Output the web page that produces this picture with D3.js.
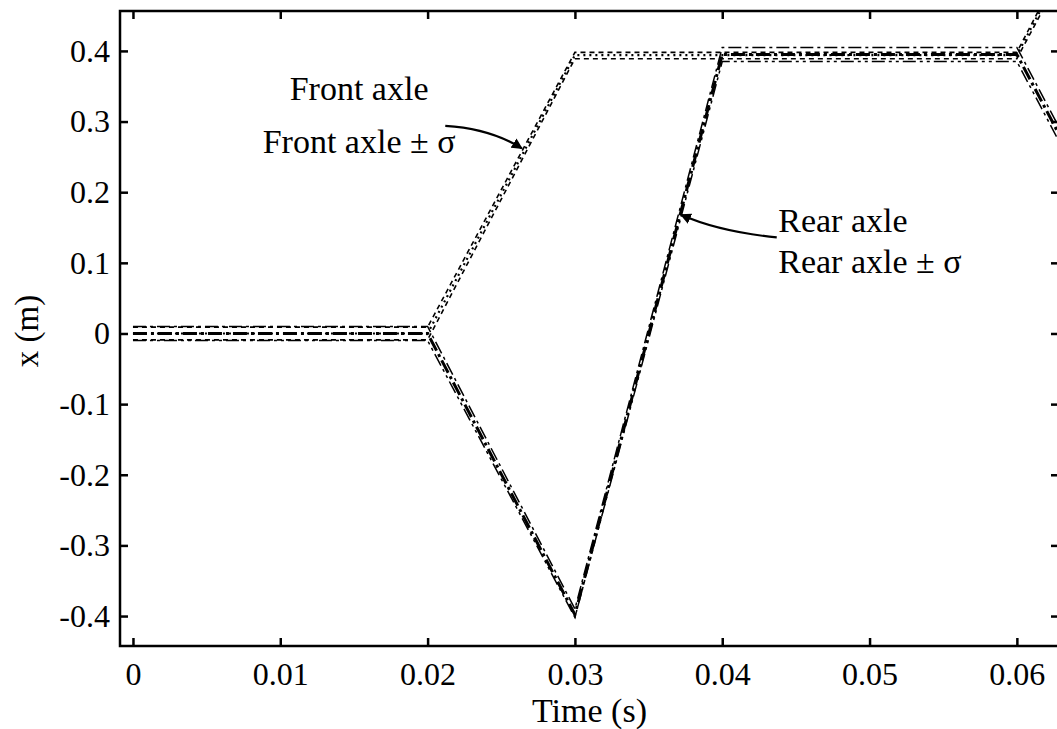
<!DOCTYPE html>
<html>
<head>
<meta charset="utf-8">
<script src="https://cdn.jsdelivr.net/npm/d3@7"></script>
<style>
  body { margin: 0; background: #fff; }
  text { font-family: 'Liberation Serif', 'Times New Roman', serif; fill: #000; }
</style>
</head>
<body>
<div class="chart"></div>
<script>
// time points (s) where the trajectories change slope
const time = [0, 0.02, 0.03, 0.04, 0.06, 0.07];

const frontMean = [0, 0, 0.394, 0.394, 0.394, 0.79];
const frontUpper = [0.009, 0.009, 0.398, 0.398, 0.398, 0.8];
const frontLower = [-0.009, -0.009, 0.389, 0.389, 0.389, 0.78];

const rearMean = [0, 0, -0.398, 0.395, 0.395, 0.0];
const rearUpper = [0.01, 0.01, -0.39, 0.405, 0.405, 0.01];
const rearLower = [-0.01, -0.01, -0.402, 0.385, 0.385, -0.01];

const xTicks = [0, 0.01, 0.02, 0.03, 0.04, 0.05, 0.06];
const yTicks = [-0.4, -0.3, -0.2, -0.1, 0, 0.1, 0.2, 0.3, 0.4];

function drawChart() {
  let width = 1057;
  let height = 729;
  let margin = { top: 11, right: -2, bottom: 83, left: 120 };

  let xScale = d3.scaleLinear().domain([-0.00088, 0.06286]).range([margin.left, width - margin.right]);
  let yScale = d3.scaleLinear().domain([-0.4424, 0.4565]).range([height - margin.bottom, margin.top]);

  let svg = d3.select('.chart').append('svg').attr('width', width).attr('height', height);

  svg.append('defs').append('clipPath').attr('id', 'plot-clip')
    .append('rect')
    .attr('x', margin.left)
    .attr('y', margin.top)
    .attr('width', width - margin.right - margin.left)
    .attr('height', height - margin.bottom - margin.top);

  svg.select('defs').append('marker')
    .attr('id', 'arrow')
    .attr('viewBox', '0 0 10 10')
    .attr('refX', 9)
    .attr('refY', 5)
    .attr('markerWidth', 5)
    .attr('markerHeight', 5)
    .attr('markerUnits', 'strokeWidth')
    .attr('orient', 'auto')
    .append('path')
    .attr('d', 'M0,0 L10,5 L0,10 z')
    .attr('fill', '#000');

  let series = [
    { values: frontLower, width: 1.6, dash: '5,4' },
    { values: frontUpper, width: 1.6, dash: '5,4' },
    { values: frontMean, width: 2.2, dash: '2,4' },
    { values: rearUpper, width: 1.5, dash: '13,4,3,4' },
    { values: rearLower, width: 1.5, dash: '13,4,3,4,3,4' },
    { values: rearMean, width: 3, dash: '14,4,3,4' }
  ];

  let line = d3.line()
    .x(function (d, i) { return xScale(time[i]); })
    .y(function (d) { return yScale(d); });

  svg.append('g').attr('clip-path', 'url(#plot-clip)')
    .selectAll('.series')
    .data(series)
    .enter()
    .append('path')
    .attr('class', 'series')
    .attr('d', function (d) { return line(d.values); })
    .attr('fill', 'none')
    .attr('stroke', '#000')
    .attr('stroke-width', function (d) { return d.width; })
    .attr('stroke-dasharray', function (d) { return d.dash; });

  let xFmt = function (d) { return d === 0 ? '0' : d.toFixed(2); };
  let yFmt = function (d) { return d === 0 ? '0' : d.toFixed(1); };

  let bottom = svg.append('g')
    .attr('transform', `translate(0,${height - margin.bottom})`)
    .call(d3.axisBottom(xScale).tickValues(xTicks).tickFormat(xFmt).tickSizeInner(-8).tickSizeOuter(0).tickPadding(16));
  let top = svg.append('g')
    .attr('transform', `translate(0,${margin.top})`)
    .call(d3.axisTop(xScale).tickValues(xTicks).tickFormat('').tickSizeInner(-8).tickSizeOuter(0));
  let left = svg.append('g')
    .attr('transform', `translate(${margin.left},0)`)
    .call(d3.axisLeft(yScale).tickValues(yTicks).tickFormat(yFmt).tickSizeInner(-8).tickSizeOuter(0).tickPadding(10));
  let right = svg.append('g')
    .attr('transform', `translate(${width - margin.right},0)`)
    .call(d3.axisRight(yScale).tickValues(yTicks).tickFormat('').tickSizeInner(-8).tickSizeOuter(0));

  [bottom, top, left, right].forEach(function (g) {
    g.select('.domain').remove();
    g.selectAll('.tick line').attr('stroke', '#000').attr('stroke-width', 2.5);
    g.selectAll('.tick text').attr('font-family', "'Liberation Serif', 'Times New Roman', serif").attr('font-size', 32);
  });

  svg.append('rect')
    .attr('x', margin.left)
    .attr('y', margin.top)
    .attr('width', width - margin.right - margin.left)
    .attr('height', height - margin.bottom - margin.top)
    .attr('fill', 'none')
    .attr('stroke', '#000')
    .attr('stroke-width', 2.5);

  svg.append('text')
    .attr('x', (margin.left + width - margin.right) / 2)
    .attr('y', 722)
    .attr('text-anchor', 'middle')
    .attr('font-size', 34)
    .text('Time (s)');

  svg.append('text')
    .attr('transform', 'translate(38,331) rotate(-90)')
    .attr('text-anchor', 'middle')
    .attr('font-size', 33)
    .text('x (m)');

  // annotations, placed in data units
  let notes = [
    { text: 'Front axle', t: 0.01535, v: 0.331, anchor: 'middle' },
    { text: 'Front axle \u00b1 \u03c3', t: 0.01535, v: 0.256, anchor: 'middle' },
    { text: 'Rear axle', t: 0.0438, v: 0.143, anchor: 'start' },
    { text: 'Rear axle \u00b1 \u03c3', t: 0.0438, v: 0.085, anchor: 'start' }
  ];
  svg.selectAll('.note')
    .data(notes)
    .enter()
    .append('text')
    .attr('class', 'note')
    .attr('x', function (d) { return xScale(d.t); })
    .attr('y', function (d) { return yScale(d.v); })
    .attr('text-anchor', function (d) { return d.anchor; })
    .attr('font-size', 34)
    .attr('xml:space', 'preserve')
    .text(function (d) { return d.text; });

  let arrows = [
    { from: [0.0212, 0.294], ctrl: [0.0243, 0.29], to: [0.0264, 0.262] },
    { from: [0.0437, 0.136], ctrl: [0.0398, 0.144], to: [0.0372, 0.168] }
  ];
  svg.selectAll('.arrow')
    .data(arrows)
    .enter()
    .append('path')
    .attr('class', 'arrow')
    .attr('d', function (d) {
      return `M${xScale(d.from[0])},${yScale(d.from[1])} Q${xScale(d.ctrl[0])},${yScale(d.ctrl[1])} ${xScale(d.to[0])},${yScale(d.to[1])}`;
    })
    .attr('fill', 'none')
    .attr('stroke', '#000')
    .attr('stroke-width', 2.2)
    .attr('marker-end', 'url(#arrow)');
}

drawChart();
</script>
</body>
</html>
